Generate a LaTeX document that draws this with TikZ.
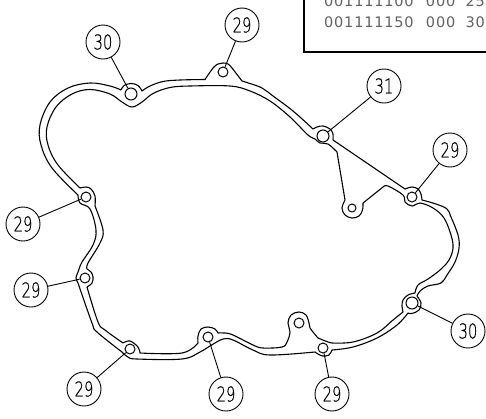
\documentclass[tikz,border=0pt]{standalone}
\usepackage{fontspec}
\setmainfont{DejaVu Sans ExtraLight}
\newfontfamily\listfont[LetterSpace=5.5]{DejaVu Sans}
\newfontfamily\tagfont[FakeBold=0.5]{DejaVu Sans ExtraLight}
\usepackage{graphicx}
\usetikzlibrary{positioning}
\tikzset{
    balloon/.style={circle, draw, line width=0.9pt, minimum size=34pt, inner sep=0pt, font=\tagfont\fontsize{20.5}{20.5}\selectfont},
    hole/.style={circle, draw, line width=1pt, inner sep=0pt},
    leader/.style={line width=0.9pt},
    gasket/.style={line width=1.1pt, line join=round},
    listrow/.style={anchor=west, inner sep=0pt, text=black!62, font=\listfont\fontsize{14.5}{14.5}\selectfont},
}
\newcommand{\tag}[1]{\scalebox{0.72}[1]{#1}}
\begin{document}
\begin{tikzpicture}[x=1pt, y=-1pt]
    \useasboundingbox (0,0) rectangle (486,418);

    % list box
    \draw[line width=2.4pt] (304,-5) -- (304,52) -- (491,52);
    \node[listrow] (row1) at (324,1) {001111100\hspace{7pt} 000\hspace{5pt} 25};
    \node[listrow] (row2) at (324,22) {001111150\hspace{7pt} 000\hspace{5pt} 30};

    % outer line
    \draw[gasket]
        plot[smooth, tension=0.6] coordinates {(121,90) (124,85.5) (131,83.5) (138,85.5) (142,91)}
        -- plot[smooth, tension=0.6] coordinates {(142,91) (150,86) (163,81.5) (180,80) (205,79.5)}
        -- plot[smooth, tension=0.6] coordinates {(205,79.5) (213,68) (218,64) (223,63) (228,64) (232,68) (242,81)}
        -- plot[smooth, tension=0.6] coordinates {(242,81) (250,83.5) (262,88) (273,96) (293,111) (313,129)}
        -- plot[smooth, tension=0.6] coordinates {(313,129) (317,127) (323,126) (330,129) (333,134) (333,140)}
        -- (405,189)
        -- plot[smooth, tension=0.6] coordinates {(405,189) (412,187) (418,189) (421,194) (422,200)}
        -- plot[smooth, tension=0.6] coordinates {(422,200) (436,204) (447,209) (451,217) (458,235) (459,248) (455,262) (447,275) (441,283) (428,286) (420,291) (417,296)}
        -- plot[smooth, tension=0.6] coordinates {(417,296) (421,303) (419,310) (412,313.5) (408,313)}
        -- plot[smooth, tension=0.6] coordinates {(408,313) (397,325) (377,338) (353,347) (332,350)}
        -- plot[smooth, tension=0.6] coordinates {(332,350) (329,355) (323,356) (318,354) (315,352)}
        -- plot[smooth, tension=0.6] coordinates {(315,352) (270,355) (253,350) (233,340) (223,339) (210,346) (200,352) (182,359) (137,359) (128,357) (122,352)}
        -- plot[smooth, tension=0.6] coordinates {(122,352) (97,332) (92,323) (78,283)}
        -- plot[smooth, tension=0.6] coordinates {(78,283) (76,278) (78,272) (82,262) (93,245) (96,230) (90,209) (80,203) (78,195)}
        -- plot[smooth, tension=0.6] coordinates {(78,195) (52,168) (41,145) (40,125) (50,102) (68,88) (90,83) (110,86) (121,90)};

    % inner line
    \draw[gasket]
        plot[smooth, tension=0.6] coordinates {(80,188) (58,165) (48,145) (47,127) (56,107) (72,94) (90,89.5) (110,94) (122,102) (132,107) (142,102) (153,93.5) (170,87.5) (190,86) (230,86) (250,91) (270,101) (290,117) (308,135) (315,139) (320,143) (328,144) (337,152)}
        -- (345,200)
        -- plot[smooth, tension=0.6] coordinates {(345,200) (342,208) (345,215) (352,218) (359,216) (362.5,210) (363,203)}
        -- (383,187)
        -- plot[smooth, tension=0.6] coordinates {(383,187) (388,186) (403,195) (405,202) (412,206) (420,203) (433,208) (444,218) (451,235) (453,248) (449,260) (440,270) (428,279) (418,285) (415,293)}
        -- plot[smooth, tension=0.6] coordinates {(415,293) (408,295) (403,300) (402,306) (403,312)}
        -- plot[smooth, tension=0.6] coordinates {(403,312) (393,320) (377,333) (353,342) (332,343)}
        -- plot[smooth, tension=0.6] coordinates {(332,343) (328,342) (318,338)}
        -- plot[smooth, tension=0.6] coordinates {(318,338) (310,328) (309,323) (306,315) (299,312) (291,315) (288,323) (290,332) (287,342) (282,347) (263,348) (253,345) (233,335) (225,333) (218,333)}
        -- plot[smooth, tension=0.6] coordinates {(218,333) (215,329) (208,327) (201,329) (198,336) (198,343)}
        -- plot[smooth, tension=0.6] coordinates {(198,343) (182,353) (140,353)}
        -- plot[smooth, tension=0.6] coordinates {(140,353) (138,347) (130,341) (123,343)}
        -- plot[smooth, tension=0.6] coordinates {(123,343) (105,330) (98,322) (87,287)}
        -- plot[smooth, tension=0.6] coordinates {(87,287) (92,283) (93,277) (91,272) (87,269)}
        -- plot[smooth, tension=0.6] coordinates {(87,269) (88,263) (100,243) (103,230) (95,206)}
        -- plot[smooth, tension=0.6] coordinates {(95,206) (95,196) (91,189) (86,187) (80,188)};

    % holes
    \node[hole, minimum size=12pt] (h30a) at (131,94) {};
    \node[hole, minimum size=10pt] (h29a) at (223,72) {};
    \node[hole, minimum size=12pt] (h31) at (323,136) {};
    \node[hole, minimum size=8pt] (htab) at (352,208) {};
    \node[hole, minimum size=10pt] (h29b) at (412,197) {};
    \node[hole, minimum size=12pt] (h30b) at (412,303) {};
    \node[hole, minimum size=10pt] (h29c) at (323,348) {};
    \node[hole, minimum size=10pt] (hbtab) at (299,323) {};
    \node[hole, minimum size=10pt] (h29d) at (208,337) {};
    \node[hole, minimum size=10pt] (h29e) at (130,349) {};
    \node[hole, minimum size=10pt] (h29f) at (85,278) {};
    \node[hole, minimum size=10pt] (h29g) at (86,197) {};

    % balloons
    \node[balloon] (b30a) at (103,42) {\tag{30}};
    \node[balloon] (b29a) at (242,25) {\tag{29}};
    \node[balloon] (b31) at (384,86) {\tag{31}};
    \node[balloon] (b29b) at (450,150) {\tag{29}};
    \node[balloon] (b30b) at (468,331) {\tag{30}};
    \node[balloon] (b29c) at (332,394) {\tag{29}};
    \node[balloon] (b29d) at (226,394) {\tag{29}};
    \node[balloon] (b29e) at (84,389) {\tag{29}};
    \node[balloon] (b29f) at (31,290) {\tag{29}};
    \node[balloon] (b29g) at (23,224) {\tag{29}};

    \draw[leader] (b30a) -- (h30a);
    \draw[leader] (b29a) -- (h29a);
    \draw[leader] (b31) -- (h31);
    \draw[leader] (b29b) -- (h29b);
    \draw[leader] (b30b) -- (h30b);
    \draw[leader] (b29c) -- (h29c);
    \draw[leader] (b29d) -- (h29d);
    \draw[leader] (b29e) -- (h29e);
    \draw[leader] (b29f) -- (h29f);
    \draw[leader] (b29g) -- (h29g);
\end{tikzpicture}
\end{document}
